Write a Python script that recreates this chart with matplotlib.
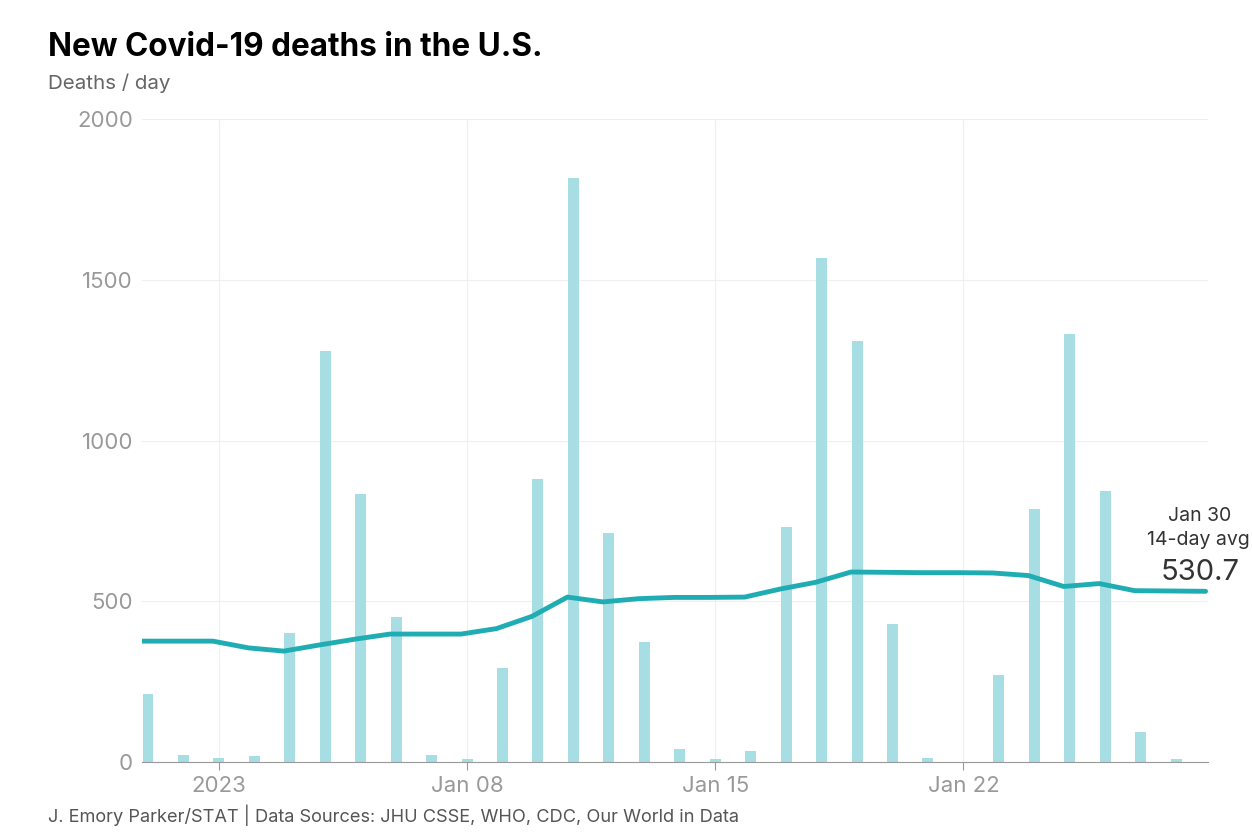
import numpy as np
import matplotlib.pyplot as plt

plt.rcParams['font.family'] = ['Inter', 'DejaVu Sans']

# days relative to Jan 1 2023 (Dec 30 = -2)
bar_days = list(range(-2, 29))
daily_deaths = [211, 21, 11, 20, 402, 1279, 833, 451, 23, 10, 294, 879, 1816, 712,
                374, 40, 9, 34, 732, 1567, 1309, 430, 14, 0, 271, 786, 1331, 844,
                92, 10, 0]

avg_days = list(range(-2, 29))
avg_14day = [376, 376, 376, 355, 345, 364, 382, 398, 398, 398, 415, 453, 513, 498,
             508, 512, 512, 513, 538, 559, 591, 590, 589, 589, 588, 580, 546, 555,
             533, 532, 531]

tick_days = [0, 7, 14, 21]
tick_labels = ["2023", "Jan 08", "Jan 15", "Jan 22"]

fig = plt.figure(figsize=(12.52, 8.34), dpi=100)
ax = fig.add_axes([0.1134, 0.0863, 0.8515, 0.771])

ax.bar(bar_days, daily_deaths, width=0.31, color="#a6dee3", zorder=2)
ax.plot(np.array(avg_days) - 0.17, avg_14day, color="#1fadb3", lw=3.5,
        solid_capstyle="round", solid_joinstyle="round", zorder=3)

ax.set_xlim(-2.17, 27.9)
ax.set_ylim(0, 2000)
ax.set_yticks([0, 500, 1000, 1500, 2000])
ax.set_xticks(tick_days)
ax.set_xticklabels(tick_labels)

ax.grid(True, color="#efefef", lw=0.8, zorder=0)
for s in ["top", "right", "left"]:
    ax.spines[s].set_visible(False)
ax.spines["bottom"].set_color("#999999")
ax.tick_params(axis="y", length=0, pad=6.5, labelsize=16, labelcolor="#999999")
ax.tick_params(axis="x", length=6, color="#999999", pad=4, labelsize=16,
               labelcolor="#999999")

fig.text(48/1252, 1 - 48/834, "New Covid-19 deaths in the U.S.", fontsize=22.7,
         fontweight="bold", color="black", va="center", ha="left")
fig.text(48/1252, 1 - 83/834, "Deaths / day", fontsize=14.8, color="#666666",
         va="center", ha="left")
fig.text(48/1252, 1 - 815/834,
         "J. Emory Parker/STAT | Data Sources: JHU CSSE, WHO, CDC, Our World in Data",
         fontsize=13.1, color="#555555", va="center", ha="left")

fig.text(1200/1252, 1 - 516/834, "Jan 30", fontsize=14, color="#333333",
         ha="center", va="center")
fig.text(1198/1252, 1 - 540/834, "14-day avg", fontsize=14, color="#333333",
         ha="center", va="center")
fig.text(1200/1252, 1 - 573/834, "530.7", fontsize=21, color="#333333",
         ha="center", va="center")

fig.savefig("out.png", dpi=100)
